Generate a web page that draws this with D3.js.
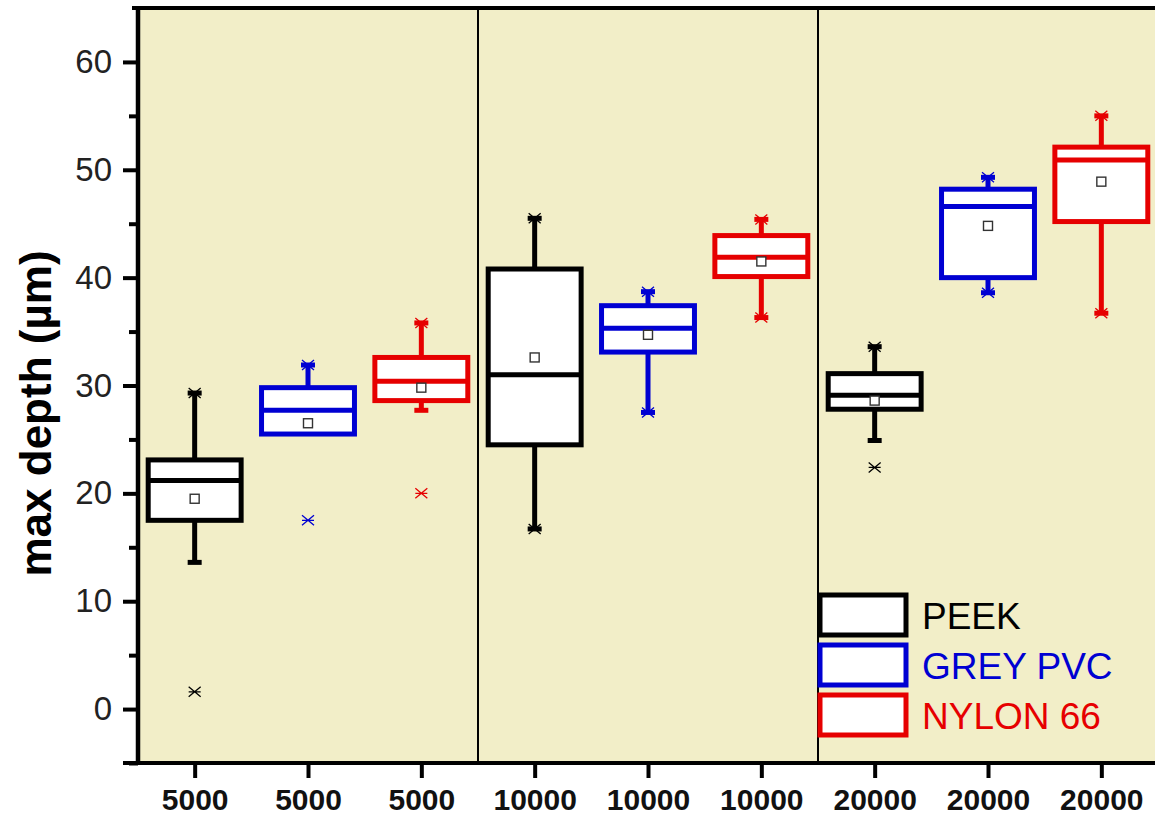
<!DOCTYPE html>
<meta charset="utf-8">
<script src="https://d3js.org/d3.v7.min.js"></script>
<style>
  body { margin: 0; background: #fff; }
  text { font-family: "Liberation Sans", Arial, sans-serif; }
</style>
<div id="my_dataviz"></div>
<script>
// tick labels along x (one per box)
var xLabels = ["5000", "5000", "5000", "10000", "10000", "10000", "20000", "20000", "20000"];
var seriesNames = ["PEEK", "GREY PVC", "NYLON 66"];
var seriesColors = ["#000000", "#0000d2", "#e60000"];
// which series each box belongs to
var boxSeries = [0, 1, 2, 0, 1, 2, 0, 1, 2];

// box statistics
var whiskerLow  = [13.6, 25.5, 27.7, 16.7, 27.5, 36.3, 24.9, 38.6, 36.7];
var q1          = [17.5, 25.5, 28.6, 24.5, 33.1, 40.1, 27.8, 40.0, 45.2];
var median      = [21.2, 27.7, 30.4, 31.0, 35.3, 41.9, 29.1, 46.6, 50.9];
var q3          = [23.1, 29.8, 32.6, 40.8, 37.4, 43.9, 31.1, 48.2, 52.1];
var whiskerHigh = [29.3, 31.9, 35.8, 45.5, 38.7, 45.4, 33.6, 49.3, 55.0];
var means       = [19.5, 26.5, 29.8, 32.6, 34.7, 41.5, 28.6, 44.8, 48.9];
var outliers    = [[1.6], [17.5], [20.0], [], [], [], [22.4], [], []];
// 1% / 99% points that sit on the whisker ends (shown as small crosses)
var lowMarked   = [false, false, false, true, true, true, false, true, true];

var yMajor = [0, 10, 20, 30, 40, 50, 60];
var yMinor = [-5, 5, 15, 25, 35, 45, 55];
var dividers = [3.5, 6.5];

var W = 1155, H = 818;
var plotLeft = 138, plotTop = 8, plotBottom = 763;

var svg = d3.select("#my_dataviz")
    .append("svg")
    .attr("width", W)
    .attr("height", H);

var x = d3.scaleLinear().domain([0.5, 9.5]).range([plotLeft, plotLeft + 1020]);
var y = d3.scaleLinear().domain([-5, 65]).range([plotBottom, plotTop]);
var step = x(2) - x(1);
var boxW = step * 0.82;

// plot background
svg.append("rect")
    .attr("x", plotLeft).attr("y", plotTop)
    .attr("width", W - plotLeft).attr("height", plotBottom - plotTop)
    .attr("fill", "#f2eec8");

// group dividers
svg.selectAll(".divider")
    .data(dividers)
    .enter().append("line")
    .attr("x1", function (d) { return x(d); })
    .attr("x2", function (d) { return x(d); })
    .attr("y1", plotTop).attr("y2", plotBottom)
    .attr("stroke", "#000").attr("stroke-width", 2);

// boxes
var idx = d3.range(xLabels.length);
var boxes = svg.append("g").selectAll("g")
    .data(idx)
    .enter().append("g");

var col = function (i) { return seriesColors[boxSeries[i]]; };

// whiskers
boxes.append("line")
    .attr("x1", function (i) { return x(i + 1); })
    .attr("x2", function (i) { return x(i + 1); })
    .attr("y1", function (i) { return y(whiskerHigh[i]); })
    .attr("y2", function (i) { return y(whiskerLow[i]); })
    .attr("stroke", col).attr("stroke-width", 5);

// whisker caps (none where the whisker has no length)
["low", "high"].forEach(function (k) {
    var val = function (i) { return k == "low" ? whiskerLow[i] : whiskerHigh[i]; };
    var caps = boxes.filter(function (i) { return k == "low" ? whiskerLow[i] < q1[i] : whiskerHigh[i] > q3[i]; });
    caps.append("line")
        .attr("x1", function (i) { return x(i + 1) - 7; })
        .attr("x2", function (i) { return x(i + 1) + 7; })
        .attr("y1", function (i) { return y(val(i)); })
        .attr("y2", function (i) { return y(val(i)); })
        .attr("stroke", col).attr("stroke-width", 5);
    caps.filter(function (i) { return k == "high" || lowMarked[i]; })
        .append("path")
        .attr("transform", function (i) { return "translate(" + x(i + 1) + "," + y(val(i)) + ")"; })
        .attr("d", "M-6,-5L6,5M-6,5L6,-5")
        .attr("stroke", col).attr("stroke-width", 1.3).attr("fill", "none");
});

// box body
boxes.append("rect")
    .attr("x", function (i) { return x(i + 1) - boxW / 2; })
    .attr("y", function (i) { return y(q3[i]); })
    .attr("width", boxW)
    .attr("height", function (i) { return y(q1[i]) - y(q3[i]); })
    .attr("fill", "#fff")
    .attr("stroke", col).attr("stroke-width", 5);

// median
boxes.append("line")
    .attr("x1", function (i) { return x(i + 1) - boxW / 2; })
    .attr("x2", function (i) { return x(i + 1) + boxW / 2; })
    .attr("y1", function (i) { return y(median[i]); })
    .attr("y2", function (i) { return y(median[i]); })
    .attr("stroke", col).attr("stroke-width", 5);

// mean square
boxes.append("rect")
    .attr("x", function (i) { return x(i + 1) - 4.5; })
    .attr("y", function (i) { return y(means[i]) - 4.5; })
    .attr("width", 9).attr("height", 9)
    .attr("fill", "#fff")
    .attr("stroke", "#333").attr("stroke-width", 1.4);

// outliers
boxes.selectAll(".out")
    .data(function (i) { return outliers[i].map(function (v) { return {i: i, v: v}; }); })
    .enter().append("path")
    .attr("transform", function (d) { return "translate(" + x(d.i + 1) + "," + y(d.v) + ")"; })
    .attr("d", "M-6,-5L6,5M-6,5L6,-5M-6,0L6,0")
    .attr("stroke", function (d) { return col(d.i); })
    .attr("stroke-width", 1.3).attr("fill", "none");

// axes
var yAxis = svg.append("g")
    .attr("transform", "translate(" + plotLeft + ",0)")
    .call(d3.axisLeft(y).tickValues(yMajor).tickSize(15).tickPadding(11));
var yMinorAxis = svg.append("g")
    .attr("transform", "translate(" + plotLeft + ",0)")
    .call(d3.axisLeft(y).tickValues(yMinor).tickSize(9).tickFormat(""));
var xAxis = svg.append("g")
    .attr("transform", "translate(0," + plotBottom + ")")
    .call(d3.axisBottom(x).tickValues(d3.range(1, 10)).tickSize(15).tickPadding(11)
        .tickFormat(function (d) { return xLabels[d - 1]; }));

[yAxis, yMinorAxis, xAxis].forEach(function (a) {
    a.select(".domain").remove();
    a.selectAll(".tick line").attr("stroke", "#000").attr("stroke-width", 4);
});
yAxis.selectAll(".tick text")
    .attr("font-size", 33).attr("fill", "#222")
    .style("font-family", "Liberation Sans, Arial, sans-serif");
xAxis.selectAll(".tick text")
    .attr("font-size", 30).attr("font-weight", "bold").attr("fill", "#111")
    .style("font-family", "Liberation Sans, Arial, sans-serif");

// frame lines
svg.append("line")
    .attr("x1", plotLeft).attr("x2", plotLeft).attr("y1", plotTop - 2).attr("y2", plotBottom + 2)
    .attr("stroke", "#000").attr("stroke-width", 4.5);
svg.append("line")
    .attr("x1", plotLeft - 6).attr("x2", W).attr("y1", plotTop).attr("y2", plotTop)
    .attr("stroke", "#000").attr("stroke-width", 4);
svg.append("line")
    .attr("x1", plotLeft - 15).attr("x2", W).attr("y1", plotBottom).attr("y2", plotBottom)
    .attr("stroke", "#000").attr("stroke-width", 4);

// y title
svg.append("text")
    .attr("transform", "translate(51," + ((plotTop + plotBottom) / 2 + 28) + ") rotate(-90)")
    .attr("text-anchor", "middle")
    .attr("font-size", 44).attr("font-weight", "bold")
    .attr("fill", "#000")
    .text("max depth (µm)");

// legend
var legend = svg.append("g")
    .selectAll("g")
    .data(seriesNames)
    .enter().append("g")
    .attr("transform", function (d, i) { return "translate(820," + (595 + i * 50) + ")"; });

legend.append("rect")
    .attr("x", 0).attr("y", 0)
    .attr("width", 86).attr("height", 40)
    .attr("fill", "#fff")
    .attr("stroke", function (d, i) { return seriesColors[i]; })
    .attr("stroke-width", 5);

legend.append("text")
    .attr("x", 102).attr("y", 34)
    .attr("font-size", 37)
    .attr("fill", function (d, i) { return seriesColors[i]; })
    .text(function (d) { return d; });
</script>
